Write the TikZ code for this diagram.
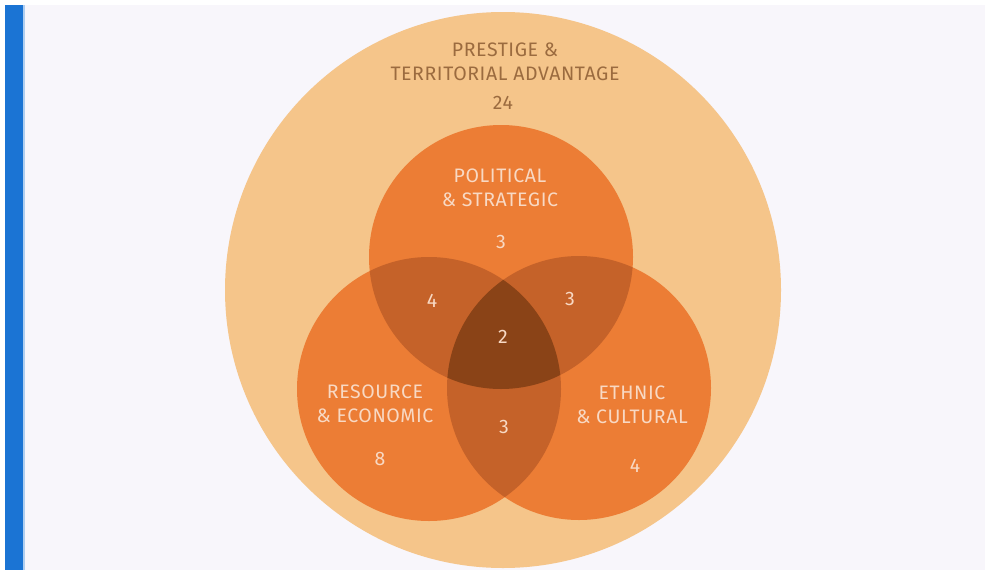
\documentclass[tikz,border=0pt]{standalone}
\usepackage{fontspec}
\setmainfont{Fira Sans}[LetterSpace=3]
\usetikzlibrary{positioning}
\definecolor{PageBg}{HTML}{F8F6FB}
\definecolor{SideBlue}{HTML}{1B74D4}
\definecolor{Peach}{HTML}{F5C58A}
\definecolor{Ember}{HTML}{EC7D35}
\definecolor{PairOver}{HTML}{C56229}
\definecolor{CoreOver}{HTML}{8A4317}
\definecolor{OuterText}{HTML}{9B6B3F}
\definecolor{InnerText}{HTML}{F8D9C4}

\begin{document}
\begin{tikzpicture}[x=1pt,y=-1pt,
    venn/.style={font=\fontsize{19.5}{24}\selectfont,align=center,
                 text=InnerText,inner sep=0pt},
    outer/.style={venn,text=OuterText}]
  % page and side bar
  \fill[white] (0,0) rectangle (985,570);
  \useasboundingbox (0,0) rectangle (985,570);
  \fill[PageBg] (25,5) rectangle (985,570);
  \fill[SideBlue] (5,5) rectangle (23,570);
  \fill[SideBlue!35] (23,5) rectangle (25,570);
  % circle centres
  \coordinate (prestige) at (503,290);
  \coordinate (political) at (501,257);
  \coordinate (resource) at (429,389);
  \coordinate (ethnic) at (579,388);
  % circles
  \fill[Peach] (prestige) circle (278pt);
  \fill[Ember] (political) circle (132pt) (resource) circle (132pt)
               (ethnic) circle (132pt);
  % overlaps
  \begin{scope}
    \clip (political) circle (132pt);
    \fill[PairOver] (resource) circle (132pt) (ethnic) circle (132pt);
  \end{scope}
  \begin{scope}
    \clip (resource) circle (132pt);
    \fill[PairOver] (ethnic) circle (132pt);
  \end{scope}
  \begin{scope}
    \clip (political) circle (132pt);
    \clip (resource) circle (132pt);
    \fill[CoreOver] (ethnic) circle (132pt);
  \end{scope}
  % labels
  \node[outer] (prestigeLbl) at (505,62) {PRESTIGE \&\\ TERRITORIAL ADVANTAGE};
  \node[outer] (prestigeNum) at (503,103) {24};
  \node[venn] (politicalLbl) at (500,188) {POLITICAL\\ \& STRATEGIC};
  \node[venn] (politicalNum) at (501,242) {3};
  \node[venn] (resourceLbl) at (375,404) {RESOURCE\\ \& ECONOMIC};
  \node[venn] (resourceNum) at (380,459) {8};
  \node[venn] (ethnicLbl) at (632,405) {ETHNIC\\ \& CULTURAL};
  \node[venn] (ethnicNum) at (635,466) {4};
  \node[venn] (polResNum) at (432,301) {4};
  \node[venn] (polEthNum) at (570,299) {3};
  \node[venn] (resEthNum) at (504,427) {3};
  \node[venn] (coreNum) at (503,337) {2};
\end{tikzpicture}
\end{document}
